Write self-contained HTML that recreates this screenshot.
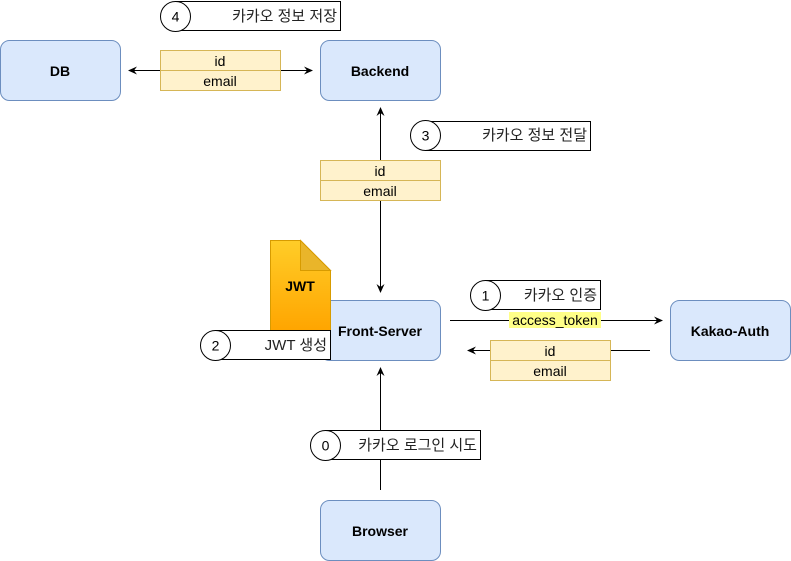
<!DOCTYPE html>
<html><head><meta charset="utf-8"><style>
html,body{margin:0;padding:0;background:#fff;}
svg{display:block;font-family:"Liberation Sans","Noto Sans CJK KR",sans-serif;}
</style></head><body>
<svg width="791" height="561" viewBox="0 0 791 561" xmlns="http://www.w3.org/2000/svg">
<defs>
<marker id="a" markerWidth="10" markerHeight="10" refX="8" refY="5" orient="auto" markerUnits="userSpaceOnUse">
<path d="M0,1 L9,5 L0,9 L3,5 Z" fill="#000"/></marker>
<linearGradient id="g" x1="0" y1="0" x2="0" y2="1"><stop offset="0" stop-color="#ffcd28"/><stop offset="1" stop-color="#ffa500"/></linearGradient>
</defs>
<g fill="#dae8fc" stroke="#6c8ebf">
<rect x="0.5" y="40.5" width="120" height="60" rx="9"/>
<rect x="320.5" y="40.5" width="120" height="60" rx="9"/>
<rect x="320.5" y="300.5" width="120" height="60" rx="9"/>
<rect x="670.5" y="300.5" width="120" height="60" rx="9"/>
<rect x="320.5" y="500.5" width="120" height="60" rx="9"/>
</g>
<g font-weight="bold" font-size="14" text-anchor="middle" fill="#000">
<text x="60" y="76">DB</text>
<text x="380" y="76">Backend</text>
<text x="380" y="336">Front-Server</text>
<text x="730" y="336">Kakao-Auth</text>
<text x="380" y="536">Browser</text>
</g>
<g stroke="#000" fill="none">
<line x1="160" y1="70.5" x2="129" y2="70.5" marker-end="url(#a)"/>
<line x1="280" y1="70.5" x2="312" y2="70.5" marker-end="url(#a)"/>
<line x1="380.5" y1="160" x2="380.5" y2="108" marker-end="url(#a)"/>
<line x1="380.5" y1="200" x2="380.5" y2="292" marker-end="url(#a)"/>
<line x1="450" y1="320.5" x2="662" y2="320.5" marker-end="url(#a)"/>
<line x1="650" y1="350.5" x2="468" y2="350.5" marker-end="url(#a)"/>
<line x1="380.5" y1="490" x2="380.5" y2="368" marker-end="url(#a)"/>
</g>
<g fill="#fff2cc" stroke="#d6b656">
<rect x="160.5" y="50.5" width="120" height="20"/><rect x="160.5" y="70.5" width="120" height="20"/>
<rect x="320.5" y="160.5" width="120" height="20"/><rect x="320.5" y="180.5" width="120" height="20"/>
<rect x="490.5" y="340.5" width="120" height="20"/><rect x="490.5" y="360.5" width="120" height="20"/>
</g>
<g font-size="14" text-anchor="middle" fill="#000">
<text x="220" y="66">id</text><text x="220" y="86">email</text>
<text x="380" y="176">id</text><text x="380" y="196">email</text>
<text x="550" y="356">id</text><text x="550" y="376">email</text>
</g>
<rect x="509" y="312" width="92" height="16" fill="#ffff88"/>
<text x="555" y="325" font-size="14" text-anchor="middle">access_token</text>
<path d="M270.5,240.5 H300.5 L330.5,270.5 V330.5 H270.5 Z" fill="url(#g)" stroke="#d79b00"/>
<path d="M300.5,240.5 V270.5 H330.5 Z" fill="#e9b52a" stroke="#d79b00"/>
<text x="300" y="291" font-size="14" font-weight="bold" text-anchor="middle">JWT</text>
<g stroke="#000" fill="#fff">
<rect x="175.5" y="1.5" width="165" height="29"/><circle cx="175.5" cy="16.5" r="15"/>
<rect x="425.5" y="121.5" width="165" height="29"/><circle cx="425.5" cy="135.5" r="15"/>
<rect x="485.5" y="280.5" width="115" height="29"/><circle cx="485.5" cy="295.5" r="15"/>
<rect x="215.5" y="330.5" width="115" height="29"/><circle cx="215.5" cy="345.5" r="15"/>
<rect x="325.5" y="430.5" width="155" height="29"/><circle cx="325.5" cy="445.5" r="15"/>
</g>
<g font-size="14" fill="#000" text-anchor="middle">
<text x="175.5" y="21.5">4</text><text x="425.5" y="140.5">3</text><text x="485.5" y="300.5">1</text><text x="215.5" y="350.5">2</text><text x="325.5" y="450.5">0</text>
</g>
<g font-size="15" fill="#222" text-anchor="end">
<text x="337" y="21">카카오 정보 저장</text>
<text x="587" y="140">카카오 정보 전달</text>
<text x="597" y="300">카카오 인증</text>
<text x="327" y="350">JWT 생성</text>
<text x="477" y="450">카카오 로그인 시도</text>
</g>
</svg>
</body></html>
